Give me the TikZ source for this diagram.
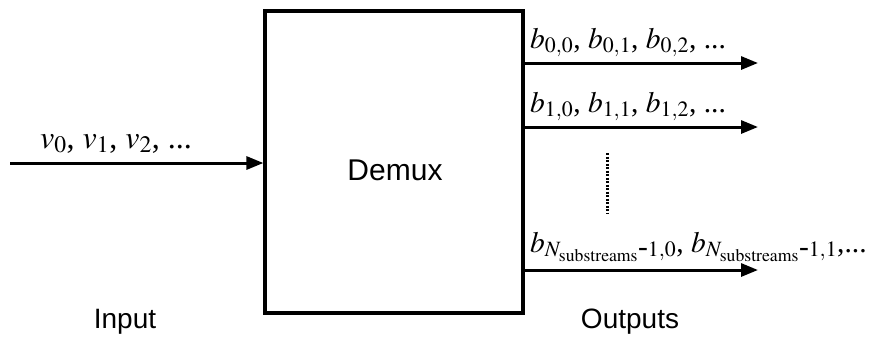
\documentclass[tikz,border=0pt]{standalone}
\usepackage{mathptmx}
\usepackage{fontspec}
\setsansfont{Liberation Sans}
\setmainfont{Liberation Serif}
\usetikzlibrary{arrows.meta}
\tikzset{
  sig/.style={line width=3pt,-{Triangle[length=17pt,width=13pt]}},
  lbl/.style={anchor=base west,inner sep=0pt,font=\fontsize{29.5}{32}\selectfont},
  captxt/.style={anchor=base,inner sep=0pt,font=\sffamily\fontsize{28}{32}\selectfont},
}
\begin{document}
\begin{tikzpicture}[x=1pt,y=-1pt]
\useasboundingbox (0,0) rectangle (873,338);
\node[draw,line width=3.2pt,minimum width=258pt,minimum height=302pt,inner sep=0pt] (demux) at (394,162) {};
\node[font=\sffamily\fontsize{30}{34}\selectfont,inner sep=0pt] (dl) at (395,170) {Demux};
\coordinate (in) at (10,163);
\coordinate (o1s) at (523,63);
\coordinate (o1e) at (758,63);
\coordinate (o2s) at (523,127);
\coordinate (o2e) at (758,127);
\coordinate (o3s) at (523,270);
\coordinate (o3e) at (758,270);
\draw[sig] (in) -- (in -| demux.west);
\draw[sig] (o1s) -- (o1e);
\draw[sig] (o2s) -- (o2e);
\draw[sig] (o3s) -- (o3e);
\coordinate (d1) at (607,153);
\coordinate (d2) at (607,214);
\draw[line width=3pt,dash pattern=on 2pt off 1.5pt] (d1) -- (d2);
\node[lbl,font=\fontsize{32}{34}\selectfont] (lv) at (40,148) {$v_0$, $v_1$, $v_2$, ...};
\node[lbl] (lb0) at (530,48) {$b_{0,0}$, $b_{0,1}$, $b_{0,2}$, ...};
\node[lbl] (lb1) at (530,112) {$b_{1,0}$, $b_{1,1}$, $b_{1,2}$, ...};
\node[lbl] (lb2) at (530,252) {$b_{N_{\mathrm{substreams}}\mbox{-}1,0}$, $b_{N_{\mathrm{substreams}}\mbox{-}1,1}$,...};
\node[captxt] (input) at (125,328) {Input};
\node[captxt] (outputs) at (630,328) {Outputs};
\end{tikzpicture}
\end{document}
